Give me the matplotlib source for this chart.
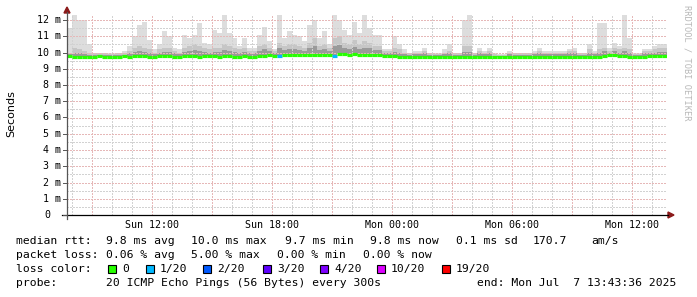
import numpy as np
import matplotlib
matplotlib.use("Agg")
import matplotlib.pyplot as plt
from matplotlib.patches import Rectangle, Polygon

W, H = 697, 297

# ---- data (15-minute bins over the 30 h window ending Mon Jul 7 13:43:36 2025) ----
bin_hours = 0.25
ping_max = [11.5, 12.3, 12.0, 12.0, 10.5, 10.0, 10.0, 10.0, 9.95, 9.95,
            10.0, 10.1, 10.4, 11.0, 11.7, 11.9, 10.8, 10.2, 10.5, 11.3,
            11.0, 10.3, 10.2, 11.1, 10.9, 11.1, 11.8, 10.6, 10.5, 11.4,
            11.2, 12.3, 11.2, 10.9, 10.4, 10.9, 10.3, 10.3, 11.1, 11.6,
            10.7, 10.2, 12.3, 10.9, 11.3, 11.1, 11.0, 10.7, 11.7, 12.0,
            10.9, 11.3, 10.5, 12.3, 12.0, 11.4, 11.1, 11.9, 11.2, 12.3,
            11.5, 11.1, 11.1, 10.2, 10.2, 11.0, 10.5, 10.2, 10.0, 10.1,
            10.1, 10.3, 10.0, 9.95, 9.95, 10.2, 10.5, 10.0, 10.0, 12.0,
            12.3, 10.0, 10.3, 10.1, 10.3, 9.95, 9.9, 9.9, 10.1, 10.0,
            10.0, 10.0, 10.0, 10.1, 10.3, 10.1, 10.1, 10.1, 10.1, 10.1,
            10.2, 10.3, 10.0, 10.0, 10.5, 10.1, 11.8, 11.8, 10.3, 10.6,
            10.4, 12.3, 10.9, 9.95, 9.95, 10.2, 10.2, 10.4, 10.5, 10.5]
ping_p90 = [10.0, 10.3, 10.2, 10.1, 9.95, 9.95, 9.95, 9.95, 9.9, 9.9,
            9.95, 9.95, 10.1, 10.3, 10.4, 10.3, 10.2, 10.0, 10.2, 10.3,
            10.3, 10.1, 10.0, 10.3, 10.4, 10.5, 10.4, 10.3, 10.2, 10.3,
            10.3, 10.5, 10.4, 10.3, 10.2, 10.3, 10.1, 10.1, 10.4, 10.5,
            10.3, 10.1, 10.6, 10.4, 10.5, 10.5, 10.4, 10.3, 10.6, 10.9,
            10.4, 10.5, 10.3, 10.9, 11.0, 10.6, 10.5, 10.8, 10.5, 10.7,
            10.6, 10.4, 10.4, 10.1, 10.1, 10.3, 10.2, 10.0, 9.95, 10.0,
            10.0, 10.1, 9.95, 9.9, 9.9, 10.0, 10.1, 9.95, 9.95, 10.4,
            10.4, 9.95, 10.1, 10.0, 10.1, 9.9, 9.85, 9.85, 10.0, 9.95,
            9.95, 9.95, 9.95, 10.0, 10.1, 10.0, 10.0, 10.0, 10.0, 10.0,
            10.1, 10.1, 9.95, 9.95, 10.2, 10.0, 10.2, 10.3, 10.1, 10.3,
            10.2, 10.3, 10.2, 9.9, 9.9, 10.1, 10.1, 10.2, 10.3, 10.3]
ping_p75 = [9.9, 10.0, 9.95, 9.9, 9.85, 9.85, 9.85, 9.85, 9.85, 9.85,
            9.85, 9.85, 9.95, 10.05, 10.1, 10.05, 10.0, 9.9, 10.0, 10.05,
            10.05, 9.95, 9.9, 10.05, 10.1, 10.15, 10.1, 10.05, 10.0, 10.05,
            10.05, 10.15, 10.1, 10.05, 10.0, 10.05, 9.95, 9.95, 10.1, 10.2,
            10.1, 10.0, 10.25, 10.15, 10.2, 10.2, 10.15, 10.1, 10.25, 10.4,
            10.15, 10.2, 10.1, 10.4, 10.45, 10.25, 10.2, 10.35, 10.2, 10.3,
            10.25, 10.15, 10.15, 9.95, 9.95, 10.05, 10.0, 9.9, 9.85, 9.9,
            9.9, 9.95, 9.85, 9.85, 9.85, 9.9, 9.95, 9.85, 9.85, 10.05,
            10.05, 9.85, 9.95, 9.9, 9.95, 9.8, 9.8, 9.8, 9.9, 9.85,
            9.85, 9.85, 9.85, 9.9, 9.95, 9.9, 9.9, 9.9, 9.9, 9.9,
            9.95, 9.95, 9.85, 9.85, 10.0, 9.9, 10.0, 10.1, 10.0, 10.1,
            10.0, 10.1, 10.0, 9.85, 9.85, 9.95, 9.95, 10.0, 10.05, 10.05]
median = [9.76, 9.74, 9.75, 9.75, 9.74, 9.75, 9.76, 9.74, 9.75, 9.75,
          9.74, 9.76, 9.75, 9.77, 9.78, 9.76, 9.75, 9.74, 9.76, 9.78,
          9.77, 9.75, 9.74, 9.76, 9.78, 9.77, 9.75, 9.76, 9.78, 9.77,
          9.75, 9.77, 9.76, 9.75, 9.74, 9.76, 9.75, 9.74, 9.77, 9.80,
          9.82, 9.80, 9.76, 9.83, 9.84, 9.82, 9.85, 9.83, 9.84, 9.86,
          9.84, 9.85, 9.83, 9.80, 9.88, 9.90, 9.87, 9.88, 9.86, 9.85,
          9.84, 9.83, 9.82, 9.80, 9.78, 9.76, 9.75, 9.74, 9.73, 9.72,
          9.72, 9.73, 9.72, 9.71, 9.72, 9.72, 9.73, 9.72, 9.72, 9.74,
          9.74, 9.72, 9.73, 9.72, 9.73, 9.71, 9.71, 9.72, 9.73, 9.72,
          9.72, 9.73, 9.72, 9.73, 9.74, 9.73, 9.72, 9.73, 9.72, 9.73,
          9.74, 9.74, 9.73, 9.73, 9.75, 9.74, 9.75, 9.78, 9.85, 9.82,
          9.78, 9.76, 9.74, 9.73, 9.73, 9.75, 9.76, 9.76, 9.77, 9.76]
loss = [0] * 42 + [1] + [0] * 10 + [1] + [0] * 66

loss_levels = [0, 1, 2, 3, 4, 10, 19]
loss_labels = ["0", "1/20", "2/20", "3/20", "4/20", "10/20", "19/20"]
loss_colors = ["#26ff00", "#00b8ff", "#0059ff", "#5e00ff", "#7e00ff", "#dd00ff", "#ff0000"]

xtick_hours = [4.2733, 10.2733, 16.2733, 22.2733, 28.2733]
xtick_labels = ["Sun 12:00", "Sun 18:00", "Mon 00:00", "Mon 06:00", "Mon 12:00"]
first_hour = 0.2733
yticks = list(range(0, 13))

MONO = "DejaVu Sans Mono"

fig = plt.figure(figsize=(W / 100, H / 100), dpi=100)
fig.patch.set_facecolor("white")

# plot area in pixels: x 67..667, y 14..215
px_l, px_r, px_t, px_b = 67, 667, 14, 215
ax = fig.add_axes([px_l / W, 1 - px_b / H, (px_r - px_l) / W, (px_b - px_t) / H])
ymax = (215 - 14) / 16.25
ax.set_xlim(0, 30)
ax.set_ylim(0, ymax)
ax.set_facecolor("white")
for s in ax.spines.values():
    s.set_visible(False)
ax.set_xticks([])
ax.set_yticks([])

n = len(ping_max)
t = np.arange(n + 1) * bin_hours
def ext(a):
    a = list(a)
    return np.array(a + [a[-1]])

med_e = ext(median)
ax.fill_between(t, med_e, ext(ping_max), step="post", color="#dddddd", lw=0, zorder=1)
ax.fill_between(t, med_e, ext(ping_p90), step="post", color="#c6c6c6", lw=0, zorder=2)
ax.fill_between(t, med_e, ext(ping_p75), step="post", color="#9a9a9a", lw=0, zorder=3)

# grid (drawn over smoke), crisp 1px dots
dot = (0, (1, 1))
def gl(line):
    line.set_antialiased(False)
GRID_MINOR = "#d2d2d2"
GRID_MAJOR = "#e6b8b8"
for v in np.arange(0.5, ymax, 1.0):
    gl(ax.axhline(v, color=GRID_MINOR, lw=1.0, ls=dot, zorder=4))
for v in yticks[1:]:
    gl(ax.axhline(v, color=GRID_MAJOR, lw=1.0, ls=dot, zorder=5))
h = first_hour
k = 0
while h < 30:
    major = (k % 3 == 1)
    gl(ax.axvline(h, color=GRID_MAJOR if major else GRID_MINOR, lw=1.0, ls=dot,
                  zorder=5 if major else 4))
    h += 1
    k += 1

# median line coloured by loss
for i in range(n):
    c = loss_colors[max(j for j, L in enumerate(loss_levels) if loss[i] >= L)]
    ax.hlines(median[i], t[i], t[i + 1], colors=c, lw=2.3, zorder=6)

# axes lines and arrows (figure pixel coords)
def fx(x): return x / W
def fy(y): return 1 - y / H
fig.add_artist(plt.Line2D([fx(62), fx(668)], [fy(215), fy(215)], color="black", lw=0.9))
fig.add_artist(plt.Line2D([fx(67), fx(67)], [fy(219), fy(12)], color="#555555", lw=0.9))
fig.add_artist(Polygon([[fx(64), fy(13)], [fx(70), fy(13)], [fx(67), fy(7)]], closed=True,
                       color="#8b1a1a", transform=fig.transFigure))
fig.add_artist(Polygon([[fx(668), fy(212)], [fx(668), fy(218)], [fx(674), fy(215)]], closed=True,
                       color="#8b1a1a", transform=fig.transFigure))
for v in yticks:
    yy = 215 - v * 16.25
    fig.add_artist(plt.Line2D([fx(63), fx(67)], [fy(yy), fy(yy)], color="#555555", lw=0.7))

# y tick labels
for v in yticks:
    yy = 215 - v * 16.25
    if v == 0:
        fig.text(fx(50.5), fy(yy), "0", ha="right", va="center", family=MONO, fontsize=7.2)
    else:
        fig.text(fx(60.5), fy(yy), f"{v} m", ha="right", va="center", family=MONO, fontsize=7.2)

# x tick labels
for hh, lab in zip(xtick_hours, xtick_labels):
    xx = px_l + hh * 20
    fig.text(fx(xx), fy(225), lab, ha="center", va="center", family=MONO, fontsize=7.2)

fig.text(fx(11), fy(114), "Seconds", rotation=90, ha="center", va="center",
         family="DejaVu Sans", fontsize=8)
fig.text(fx(686.5), fy(5), "RRDTOOL / TOBI OETIKER", rotation=270, ha="center", va="top",
         family=MONO, fontsize=6.2, color="#b8b8b8")

# legend lines
LF = 8.2
def lt(x, y, s):
    fig.text(fx(x), fy(y), s, ha="left", va="center", family=MONO, fontsize=LF)

y1, y2, y3, y4 = 241, 255, 269, 283
lt(16, y1, "median rtt:")
for x, s in [(106, "9.8 ms avg"), (191, "10.0 ms max"), (285, "9.7 ms min"),
             (370, "9.8 ms now"), (456, "0.1 ms sd"), (533, "170.7"), (591, "am/s")]:
    lt(x, y1, s)
lt(16, y2, "packet loss:")
for x, s in [(106, "0.06 % avg"), (191, "5.00 % max"), (277, "0.00 % min"), (363, "0.00 % now")]:
    lt(x, y2, s)
lt(16, y3, "loss color:")
box_x = [108, 145.5, 203, 263, 320, 376.5, 441.5]
for bx, c, lab in zip(box_x, loss_colors, loss_labels):
    fig.add_artist(Rectangle((fx(bx), fy(y3 + 4)), 8 / W, 8 / H, facecolor=c,
                             edgecolor="black", lw=0.8, transform=fig.transFigure))
    lt(bx + 14, y3, lab)
lt(16, y4, "probe:")
lt(106, y4, "20 ICMP Echo Pings (56 Bytes) every 300s")
lt(477, y4, "end: Mon Jul  7 13:43:36 2025")

fig.savefig("out.png", dpi=100, facecolor="white")
